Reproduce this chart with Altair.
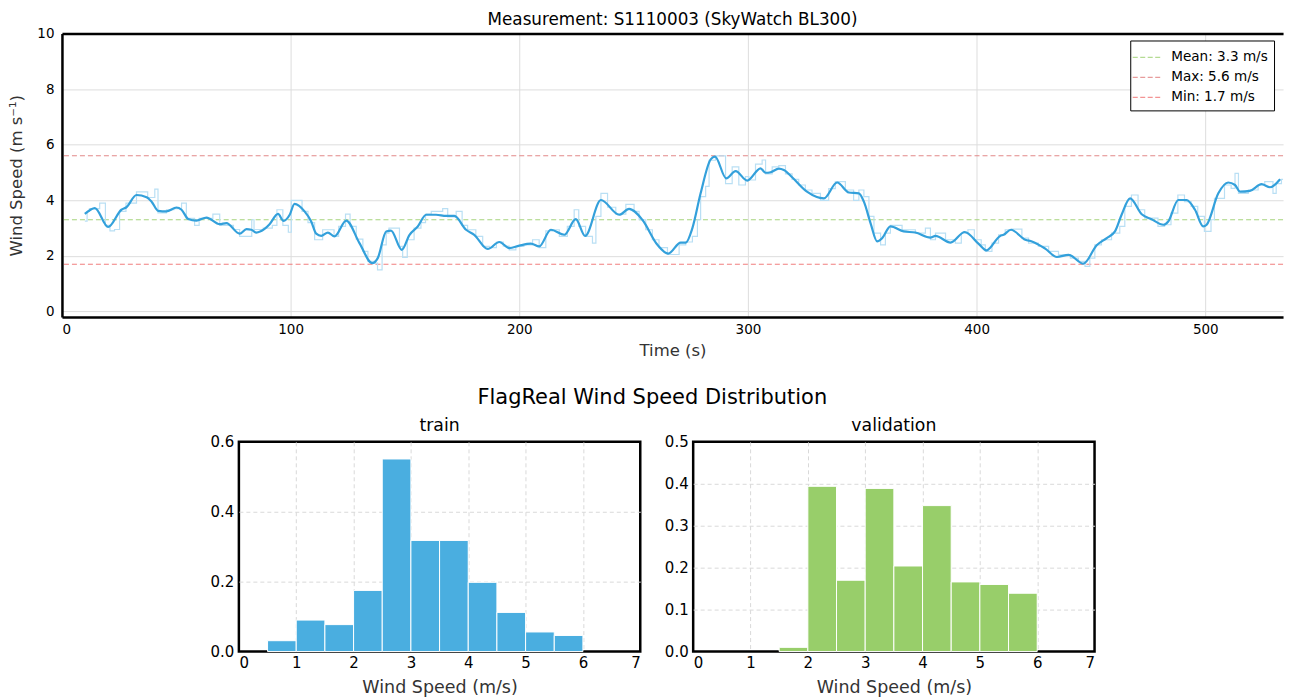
import altair as alt
import pandas as pd

FONT = "DejaVu Sans"

# ---- time series (smoothed) ----
smooth_t = [10, 14.4, 20.2, 26, 28.2, 32.6, 37, 39.2, 42.1, 45.7, 50.1, 52.3, 55.2, 58.8, 63.2, 69, 71.9,
            77.7, 80.7, 82.8, 85, 88.6, 90.8, 94.5, 96.9, 99.6, 101.7, 106.1, 109, 111.2, 113.4, 116.3, 119.2,
            124.3, 130.1, 135.7, 138.1, 141.8, 143.9, 148.6, 152, 155.6, 159.3, 163.6, 168, 171.6, 176.7,
            180.3, 186.2, 191.3, 195.6, 200, 205.1, 208.7, 213.8, 219.7, 224.7, 228.8, 235.7, 243.7, 248,
            253.8, 260.4, 265.1, 270.6, 272.8, 275.7, 279.3, 283.7, 285.6, 290.5, 294.6, 299.7, 305.5, 307.7,
            309.9, 313.5, 315.7, 319.3, 325.8, 333.2, 339, 344.1, 348.5, 350.7, 353.6, 356.5, 358.7, 362.3,
            368.1, 373.2, 379.8, 382, 388.6, 394.8, 400.9, 404.3, 410.3, 411.8, 415, 421.3, 424.2, 430,
            435.1, 440.2, 446.7, 452.5, 456.9, 460.5, 463.4, 467.1, 472.2, 476.5, 481.7, 483.8, 488.2,
            491.8, 495.5, 499.1, 500.6, 505.7, 510, 513, 515.2, 519.5, 524.6, 528.3, 532.7]
smooth_v = [3.51, 3.72, 3.04, 3.66, 3.75, 4.19, 4.11, 3.95, 3.62, 3.60, 3.74, 3.66, 3.33, 3.27, 3.38, 3.14, 3.18,
            2.80, 2.96, 2.94, 2.84, 2.97, 3.14, 3.51, 3.26, 3.48, 3.87, 3.60, 3.24, 2.80, 2.72, 2.84, 2.70,
            3.27, 2.46, 1.74, 1.92, 2.88, 2.91, 2.22, 2.76, 3.06, 3.48, 3.48, 3.44, 3.44, 2.94,
            2.76, 2.25, 2.50, 2.28, 2.37, 2.44, 2.34, 2.94, 2.76, 3.32, 2.72, 4.01, 3.48, 3.69,
            3.30, 2.40, 2.08, 2.48, 2.48, 3.00, 4.25, 5.47, 5.57, 4.79, 5.05, 4.71, 5.15, 4.99,
            5.01, 5.14, 5.09, 4.83, 4.31, 4.07, 4.64, 4.28, 4.25, 3.95, 3.18, 2.52, 2.64, 3.06,
            2.88, 2.84, 2.66, 2.72, 2.48, 2.86, 2.43, 2.20, 2.72, 2.76, 2.94, 2.58, 2.52, 2.26,
            1.96, 2.04, 1.72, 2.38, 2.64, 2.88, 3.48, 4.07, 3.50, 3.32, 3.12, 3.24, 4.01,
            4.01, 3.66, 3.06, 3.12, 4.25, 4.64, 4.55, 4.31, 4.34, 4.58, 4.47, 4.76]

# ---- time series (raw, stepped) ----
raw_t = [10, 11, 12, 16.5, 19, 21, 23, 25.2, 28, 32.6, 37.5, 40.6, 42, 45.7, 49, 52.3, 54.4, 58, 60, 66, 69,
         75, 77.7, 83, 84, 88, 92, 94, 96.6, 99, 100.3, 105, 107.6, 110.5, 114, 119, 121, 124, 126, 128.7,
         131.6, 133.8, 136.7, 138, 140, 141.8, 143, 147.6, 149, 151, 154, 157, 159, 161.5, 166.5, 168.7,
         172.4, 175, 177.4, 181, 184, 187, 190, 193, 195.6, 198.5, 202, 205.8, 208.7, 211.6, 214.6, 217.5,
         221, 224, 226, 229, 232, 233.5, 235.7, 238.6, 242.2, 246.6, 250.2, 252.4, 255.3, 258.2, 261.1,
         264.8, 269.9, 272.8, 275.7, 277.9, 279.3, 281.5, 283, 285.8, 290.2, 293.1, 296, 298.9, 300.4,
         303.3, 306.2, 307.7, 310.6, 313.5, 316.4, 319.3, 322.2, 325.1, 328, 331.7, 335.3, 338.2, 342.6,
         346.2, 348.5, 350.7, 352.9, 355.1, 358, 360.1, 362.3, 367.4, 373.2, 377.6, 379.8, 382, 386.4,
         390.7, 393.3, 396.2, 399, 402, 403.8, 406.7, 409.6, 412.5, 415.4, 419.8, 422.7, 427, 431.5, 435.8,
         441, 444.5, 447.4, 449.5, 451.7, 454.6, 459, 462.6, 464.8, 467.7, 470.6, 473.5, 479.3, 482.2, 485,
         488, 490.9, 493.8, 496.7, 499.6, 502.5, 504, 508.4, 511.3, 513, 514.5, 518.8, 523.1, 526, 529.6,
         531, 533.3, 536]
raw_v = [3.25, 3.6, 3.7, 3.9, 3.1, 2.9, 2.95, 3.6, 3.9, 4.3, 4.1, 4.4, 3.55, 3.66, 3.7, 3.9, 3.35, 3.1, 3.35, 3.5, 3.1,
         2.95, 2.7, 3.3, 2.95, 3.0, 3.1, 3.66, 3.1, 2.85, 4.0, 3.6, 3.2, 2.58, 2.94, 2.7, 3.06, 3.5, 3.06, 2.6,
         2.16, 1.8, 1.74, 1.5, 2.4, 2.82, 3.0, 2.34, 1.95, 2.58, 3.0, 3.2, 3.5, 3.6, 3.7, 3.4,
         3.6, 3.1, 2.94, 2.7, 2.34, 2.3, 2.5, 2.35, 2.22, 2.34, 2.4, 2.58, 2.3, 2.9, 2.94, 2.7,
         3.06, 3.66, 3.06, 2.7, 2.46, 3.42, 4.25, 3.75, 3.5, 3.85, 3.6, 3.3, 2.94, 2.58, 2.3,
         2.05, 2.4, 2.5, 2.7, 3.3, 4.13, 4.5, 5.44, 5.6, 4.6, 5.2, 4.55, 4.85, 4.73,
         5.3, 5.45, 4.95, 5.2, 5.25, 4.95, 4.75, 4.55, 4.37, 4.25, 4.0, 4.42, 4.67, 4.37,
         4.0, 4.37, 4.13, 3.42, 2.82, 2.4, 2.82, 3.1, 2.94, 2.82, 3.0, 2.58, 2.82, 2.58,
         2.46, 2.82, 2.94, 2.58, 2.4, 2.16, 2.46, 2.76, 2.94, 2.96, 2.64, 2.46, 2.34, 2.16, 2.04,
         1.92, 1.8, 1.62, 1.92, 2.4, 2.58, 2.82, 3.06, 3.78, 4.19, 3.66, 3.36, 3.06, 3.12, 3.54,
         4.19, 3.95, 3.78, 3.42, 2.88, 3.3, 4.07, 4.55, 4.43, 4.97, 4.25, 4.37, 4.55, 4.67, 4.25,
         4.6, 4.75, 4.75]

stat_names = ["Mean", "Max", "Min"]
stat_values = [3.3, 5.6, 1.7]
stat_colors = ["#9ccf6f", "#df7c7c", "#f07171"]

# ---- histograms ----
train_start = [0.5, 1.0, 1.5, 2.0, 2.5, 3.0, 3.5, 4.0, 4.5, 5.0, 5.5]
train_density = [0.031, 0.090, 0.077, 0.175, 0.551, 0.318, 0.318, 0.198, 0.112, 0.056, 0.046]
val_start = [1.5, 2.0, 2.5, 3.0, 3.5, 4.0, 4.5, 5.0, 5.5]
val_density = [0.010, 0.394, 0.170, 0.389, 0.204, 0.348, 0.166, 0.160, 0.139]
bin_width = 0.5

smooth_df = pd.DataFrame({"t": smooth_t, "v": smooth_v})
raw_df = pd.DataFrame({"t": raw_t, "v": raw_v})
labels = [f"{n}: {v} m/s" for n, v in zip(stat_names, stat_values)]
stat_df = pd.DataFrame({"v": stat_values, "label": labels})

FRAME = dict(domain=True, domainColor="black", domainWidth=2.5)
top_axis_common = dict(
    ticks=False, grid=True, gridColor="#dddddd", gridWidth=1,
    labelFont=FONT, labelFontSize=13.5, labelColor="black",
    titleFont=FONT, titleFontSize=16.5, titleColor="#333333", titleFontWeight="normal",
)
x_scale = alt.Scale(domain=[0, 534], nice=False, zero=False)
x_enc = alt.X("t:Q", scale=x_scale,
              axis=alt.Axis(title="Time (s)", values=[0, 100, 200, 300, 400, 500],
                            labelPadding=5, titlePadding=7, **FRAME, **top_axis_common))
x_noaxis = alt.X("t:Q", scale=x_scale, axis=None)
y_enc = alt.Y("v:Q", scale=alt.Scale(domain=[-0.2, 10], nice=False, zero=False),
              axis=alt.Axis(title="Wind Speed (m s\u207b\u00b9)", values=[0, 2, 4, 6, 8, 10],
                            labelPadding=8, titlePadding=12, **FRAME, **top_axis_common))

rules = alt.Chart(stat_df).mark_rule(strokeDash=[5, 3], strokeWidth=1.1, opacity=0.9).encode(
    y=y_enc,
    color=alt.Color("label:N", scale=alt.Scale(domain=labels, range=stat_colors),
                    legend=alt.Legend(title=None, orient="none", legendX=1070, legendY=7,
                                      strokeColor="black", fillColor="white", padding=6,
                                      cornerRadius=0, symbolType="M-1.45,0H1.45", symbolSize=400,
                                      symbolFillColor="transparent",
                                      symbolStrokeWidth=1.2, symbolDash=[5, 2.5], symbolOpacity=0.75,
                                      labelFont=FONT, labelFontSize=13.6, labelColor="black",
                                      labelOffset=13, rowPadding=2)),
)
raw_line = alt.Chart(raw_df).mark_line(interpolate="step-after", color="#b9dff4", strokeWidth=1.2,
                                       clip=True).encode(x=x_enc, y=y_enc)
smooth_line = alt.Chart(smooth_df).mark_line(interpolate="monotone", color="#33a0db",
                                             strokeWidth=2.2).encode(x=x_noaxis, y=y_enc)
# invisible layer that only carries the top frame line (an x axis on the top side)
top_frame = alt.Chart(smooth_df).mark_line(opacity=0).encode(
    x=alt.X("t:Q", scale=x_scale,
            axis=alt.Axis(orient="top", title=None, labels=False, ticks=False, grid=False, **FRAME)),
    y=y_enc,
)

top = alt.layer(rules, raw_line, smooth_line, top_frame).resolve_axis(x="independent").properties(
    width=1223, height=284,
    view=alt.ViewBackground(stroke="transparent"),
    title=alt.TitleParams("Measurement: S1110003 (SkyWatch BL300)", font=FONT, fontSize=16.8,
                          fontWeight="normal", color="black", anchor="middle", offset=-2),
)


def hist_panel(starts, dens, color, name, ymax, yvals):
    df = pd.DataFrame({"start": starts, "end": [s + bin_width for s in starts], "density": dens})
    axis_common = dict(domain=False, ticks=False, grid=True, gridColor="#d9d9d9", gridDash=[4, 3],
                       gridWidth=1, labelFont=FONT, labelFontSize=15, labelColor="black",
                       titleFont=FONT, titleFontWeight="normal")
    return alt.Chart(df).mark_bar(color=color, stroke="white", strokeWidth=1).encode(
        x=alt.X("start:Q", scale=alt.Scale(domain=[0, 7], nice=False),
                axis=alt.Axis(title="Wind Speed (m/s)", values=list(range(8)), titleFontSize=17.5,
                              titleColor="#333333", titlePadding=8, labelPadding=4,
                              gridOpacity={"condition": {"test": "datum.value <= 0 || datum.value >= 7",
                                                         "value": 0}, "value": 1},
                              **axis_common)),
        x2="end:Q",
        y=alt.Y("density:Q", scale=alt.Scale(domain=[0, ymax], nice=False),
                axis=alt.Axis(title=None, values=yvals, format=".1f", labelPadding=5,
                              gridOpacity={"condition": {"test": f"datum.value <= 0 || datum.value >= {ymax - 0.001}",
                                                         "value": 0}, "value": 1},
                              **axis_common)),
        y2=alt.datum(0),
    ).properties(
        width=402, height=210,
        view=alt.ViewBackground(stroke="black", strokeWidth=2.5),
        title=alt.TitleParams(name, font=FONT, fontSize=17.3, fontWeight="normal", color="black",
                              anchor="middle", offset=1),
    )


train = hist_panel(train_start, train_density, "#4aaee0", "train", 0.6, [0, 0.2, 0.4, 0.6])
val = hist_panel(val_start, val_density, "#98ce6a", "validation", 0.5, [0, 0.1, 0.2, 0.3, 0.4, 0.5])

hists = alt.hconcat(train, val, spacing=20).properties(
    title=alt.TitleParams("FlagReal Wind Speed Distribution", font=FONT, fontSize=21,
                          fontWeight="normal", color="black", anchor="middle", offset=7)
)
# empty layout spacer on the right so the histogram pair sits slightly left of centre
spacer = alt.Chart(pd.DataFrame({"s": [0]})).mark_point(opacity=0).encode(
    x=alt.X("s:Q", axis=None), y=alt.Y("s:Q", axis=None)
).properties(width=10, height=10, view=alt.ViewBackground(stroke="transparent"))

bottom = alt.hconcat(hists, spacer, spacing=0)

chart = alt.vconcat(top, bottom, spacing=27, center=True).properties(
    padding={"left": 0, "top": 2, "right": 0, "bottom": 0},
    background="white",
)

chart.save("out.html", embed_options={"renderer": "svg", "actions": False})
